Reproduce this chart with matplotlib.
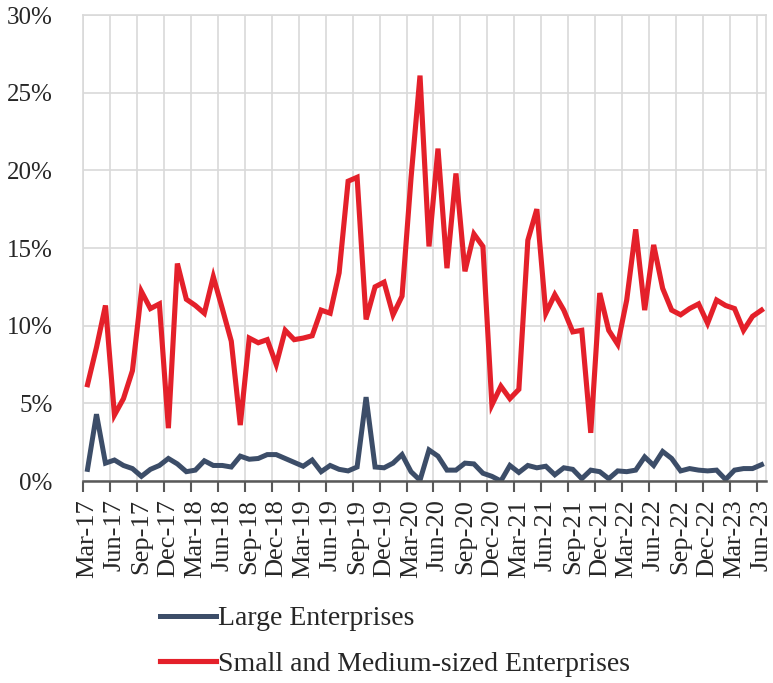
import numpy as np
import pandas as pd
import matplotlib
matplotlib.use('Agg')
import matplotlib.pyplot as plt
from matplotlib.ticker import FixedLocator, PercentFormatter

# 月份：2017年3月 - 2023年6月
months = pd.date_range('2017-03-01', periods=76, freq='MS')
month_labels = months.strftime('%b-%y')

# 大型企业（%）
large = [0.75, 4.3, 1.15, 1.35, 1.0, 0.8, 0.3, 0.75, 1.0, 1.45,
         1.1, 0.6, 0.7, 1.3, 1.0, 1.0, 0.9, 1.6, 1.4, 1.45,
         1.7, 1.7, 1.45, 1.2, 0.95, 1.35, 0.6, 1.0, 0.75, 0.65,
         0.9, 5.4, 0.9, 0.85, 1.15, 1.7, 0.6, 0.05, 2.0, 1.6,
         0.7, 0.7, 1.15, 1.1, 0.5, 0.3, 0.0, 1.0, 0.55, 1.0,
         0.85, 0.95, 0.4, 0.85, 0.75, 0.15, 0.7, 0.6, 0.15, 0.65,
         0.6, 0.7, 1.55, 1.0, 1.9, 1.45, 0.65, 0.8, 0.7, 0.65,
         0.7, 0.1, 0.7, 0.8, 0.8, 1.05]

# 中小企业（%）
sme = [6.2, 8.6, 11.3, 4.25, 5.3, 7.1, 12.2, 11.1, 11.4, 3.4,
       14.0, 11.7, 11.3, 10.8, 13.15, 11.1, 9.0, 3.6, 9.2, 8.9,
       9.1, 7.5, 9.7, 9.1, 9.2, 9.35, 11.0, 10.8, 13.4, 19.3,
       19.55, 10.4, 12.5, 12.8, 10.7, 11.9, 19.5, 26.1, 15.1, 21.4,
       13.7, 19.8, 13.5, 15.9, 15.1, 4.9, 6.1, 5.3, 5.9, 15.5,
       17.5, 10.8, 12.0, 11.0, 9.6, 9.7, 3.1, 12.1, 9.7, 8.8,
       11.65, 16.2, 11.0, 15.2, 12.4, 11.0, 10.7, 11.1, 11.4, 10.15,
       11.65, 11.3, 11.1, 9.7, 10.6, 11.0]

plt.rcParams['font.family'] = ['Liberation Serif', 'DejaVu Serif']

fig = plt.figure(figsize=(7.73, 6.83), dpi=100)
ax = fig.add_axes([83 / 773, 1 - 481 / 683, (766 - 83) / 773, (481 - 15) / 683])

x = np.arange(len(months)) + 0.5
ax.plot(x, large, color='#3c4d68', lw=3.6, solid_joinstyle='miter', label='Large Enterprises')
ax.plot(x, sme, color='#e4202a', lw=3.7, solid_joinstyle='miter',
        label='Small and Medium-sized Enterprises')

ax.set_xlim(0, len(months))
ax.set_ylim(0, 30)
ax.set_yticks(np.arange(0, 31, 5))
ax.yaxis.set_major_formatter(PercentFormatter(decimals=0))

# 刻度线在类别边界，标签在类别中心
ax.xaxis.set_major_locator(FixedLocator(np.arange(0, len(months), 3)))
ax.xaxis.set_minor_locator(FixedLocator(x[::3]))
ax.set_xticklabels([])
ax.set_xticklabels(month_labels[::3], minor=True, rotation=90, fontsize=19, color='#262626')
ax.tick_params(axis='x', which='major', length=8, width=1.5, color='#595959', direction='out')
ax.tick_params(axis='x', which='minor', length=0, pad=13)
ax.tick_params(axis='y', length=0, pad=22, labelsize=18, labelcolor='#262626')

ax.grid(True, which='major', color='#d9d9d9', lw=1.2)
ax.set_axisbelow(True)
for s in ['top', 'left', 'right']:
    ax.spines[s].set_color('#d9d9d9')
    ax.spines[s].set_linewidth(1.2)
ax.spines['bottom'].set_color('#595959')
ax.spines['bottom'].set_linewidth(1.8)
ax.spines['bottom'].set_zorder(3)

fig.legend(loc='upper left', bbox_to_anchor=(160 / 773, 1 - 606 / 683), frameon=False,
           fontsize=20, handlelength=2.0, handletextpad=0.1, labelspacing=0.72,
           borderpad=0, borderaxespad=0, labelcolor='#262626')

fig.savefig('out.png', dpi=100)
